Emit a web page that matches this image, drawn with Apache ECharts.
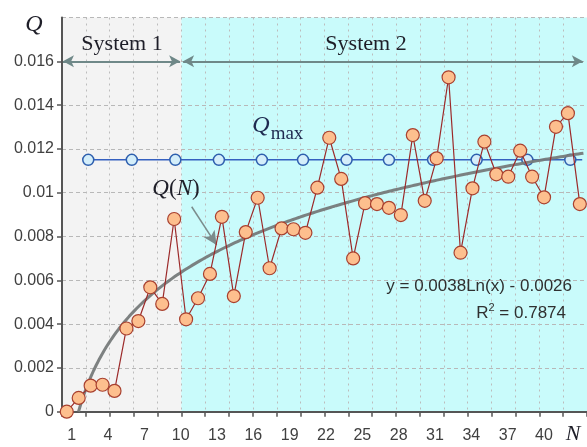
<!DOCTYPE html>
<html>
<head>
<meta charset="utf-8">
<script src="https://cdn.jsdelivr.net/npm/echarts@6/dist/echarts.min.js"></script>
<style>
  html, body { margin: 0; padding: 0; background: #ffffff; }
  #chart { width: 587px; height: 447px; }
</style>
</head>
<body>
<div id="chart"></div>
<script>
// Sample number N and the measured Q for each sample
const nValues = [1, 2, 3, 4, 5, 6, 7, 8, 9, 10, 11, 12, 13, 14, 15, 16, 17, 18, 19, 20, 21, 22,
                 23, 24, 25, 26, 27, 28, 29, 30, 31, 32, 33, 34, 35, 36, 37, 38, 39, 40, 41, 42, 43, 44];
const qValues = [0, 0.00063, 0.00119, 0.00123, 0.00095, 0.0038, 0.00414, 0.00568, 0.00492, 0.0088,
                 0.00422, 0.00518, 0.00629, 0.0089, 0.00528, 0.0082, 0.00977, 0.00655, 0.00837, 0.00833,
                 0.00817, 0.01023, 0.01251, 0.01063, 0.0070, 0.00952, 0.00948, 0.00931, 0.00898, 0.01263,
                 0.00963, 0.01157, 0.01527, 0.00726, 0.0102, 0.01233, 0.01084, 0.01073, 0.01192, 0.01073,
                 0.00979, 0.01301, 0.01363, 0.00948];

// Upper limit Q_max and the N positions of its markers
const QMAX = 0.0115;
const qmaxN = [2.8, 6.45, 10.1, 13.75, 17.35, 20.8, 24.45, 28.0, 31.7, 35.35, 39.6, 43.2];
const QMAX_LINE_END = 44.2;

// Logarithmic trend: y = A*ln(x) - B, R^2 as reported
const TREND_A = 0.0038;
const TREND_B = 0.0026;
const TREND_R2 = 0.7874;
const TREND_END = 44.3;

// Axis labels
const xTickLabels = [1, 4, 7, 10, 13, 16, 19, 22, 25, 28, 31, 34, 37, 40];

// Range of each system along N, with its background colour
const system1 = [0.6, 10.6];
const system2 = [10.6, 44.6];
const regionColors = ['#f3f3f3', '#c9fbfb'];
const SYSTEM_ARROW_Q = 0.016;
const Y_MAX = 0.018;

const mainData = nValues.map((n, i) => [n, qValues[i]]);

const qmaxData = qmaxN.map(n => [n, QMAX]);
qmaxData.push({ value: [QMAX_LINE_END, QMAX], symbol: 'none' });

// Trend curve built from the fitted equation
const trendData = [];
const trendStart = Math.exp(TREND_B / TREND_A);
for (let k = 0; k <= 200; k++) {
  const x = trendStart + (TREND_END - trendStart) * k / 200;
  trendData.push([x, TREND_A * Math.log(x) - TREND_B]);
}

const regionData = [
  [system1[0], system1[1], 0],
  [system2[0], system2[1], 1]
];

const serif = '"Liberation Serif", "DejaVu Serif", serif';
const sans = '"Liberation Sans", Arial, sans-serif';
const axisColor = '#555555';

const chart = echarts.init(document.getElementById('chart'), null, { renderer: 'canvas' });

chart.setOption({
  animation: false,
  backgroundColor: '#ffffff',
  grid: { left: 62, right: 0, top: 17.5, bottom: 35.3, outerBoundsMode: 'none' },
  xAxis: [
    {
      type: 'value',
      min: 0.6,
      max: 44.6,
      interval: 2,
      z: 1,
      axisLine: { show: true, onZero: false, lineStyle: { color: axisColor, width: 2 } },
      axisTick: { show: true, length: 5, lineStyle: { color: axisColor, width: 1.5 } },
      axisLabel: { show: false },
      splitLine: { show: true, lineStyle: { color: '#bcbcbc', width: 1, type: [2, 4] } }
    },
    {
      type: 'value',
      position: 'bottom',
      min: 0.2,
      max: 43.55,
      z: 1,
      axisLine: { show: false },
      axisTick: { show: false },
      splitLine: { show: false },
      axisLabel: {
        customValues: xTickLabels,
        fontFamily: sans,
        fontSize: 16,
        color: '#404040',
        margin: 16
      }
    }
  ],
  yAxis: {
    type: 'value',
    min: 0,
    max: Y_MAX,
    interval: 0.002,
    z: 1,
    axisLine: { show: true, onZero: false, lineStyle: { color: axisColor, width: 2 } },
    axisTick: { show: true, length: 5, lineStyle: { color: axisColor, width: 1.5 } },
    axisLabel: {
      showMaxLabel: false,
      fontFamily: sans,
      fontSize: 16,
      color: '#404040',
      margin: 8
    },
    splitLine: { show: true, lineStyle: { color: '#b8b8b8', width: 1, type: [4, 3] } }
  },
  series: [
    {
      // shaded bands for the two systems, drawn beneath the grid lines
      name: 'regions',
      type: 'custom',
      z: 0,
      silent: true,
      data: regionData,
      encode: { x: [0, 1] },
      renderItem: function (params, api) {
        const p0 = api.coord([api.value(0), Y_MAX]);
        const p1 = api.coord([api.value(1), 0]);
        return {
          type: 'rect',
          shape: { x: p0[0], y: p0[1], width: p1[0] - p0[0], height: p1[1] - p0[1] },
          style: { fill: regionColors[api.value(2)] },
          z2: 0
        };
      }
    },
    {
      name: 'Qmax',
      type: 'line',
      data: qmaxData,
      symbol: 'circle',
      symbolSize: 11,
      lineStyle: { color: '#3560c0', width: 1.5 },
      itemStyle: { color: '#d4eefa', borderColor: '#2e5fae', borderWidth: 1.5 },
      z: 3,
      markLine: {
        silent: true,
        symbol: ['arrow', 'arrow'],
        symbolSize: [9, 11],
        label: { show: false },
        lineStyle: { color: '#6f8888', width: 2, type: 'solid' },
        data: [
          [{ coord: [system1[0] + 0.08, SYSTEM_ARROW_Q] }, { coord: [system1[1] - 0.1, SYSTEM_ARROW_Q] }],
          [{ coord: [system2[0] + 0.15, SYSTEM_ARROW_Q] }, { coord: [system2[1] - 0.35, SYSTEM_ARROW_Q] }]
        ]
      }
    },
    {
      name: 'trend',
      type: 'line',
      data: trendData,
      showSymbol: false,
      symbol: 'none',
      smooth: false,
      lineStyle: { color: 'rgba(118,122,122,0.95)', width: 3 },
      z: 4,
      markLine: {
        silent: true,
        symbol: ['none', 'arrow'],
        symbolSize: [10, 14],
        label: { show: false },
        lineStyle: { color: '#7b8c8c', width: 1.5, type: 'solid' },
        data: [
          [{ coord: [11.47, 0.00936] }, { coord: [13.56, 0.00761] }]
        ]
      }
    },
    {
      name: 'Q',
      type: 'line',
      data: mainData,
      symbol: 'circle',
      symbolSize: 13,
      lineStyle: { color: '#9c2a2a', width: 1.2 },
      itemStyle: { color: '#fdbf8e', borderColor: '#a8402f', borderWidth: 1.2 },
      z: 5
    }
  ],
  graphic: [
    { type: 'text', x: 34, y: 25, z: 10,
      style: { text: 'Q', font: 'italic 24px ' + serif, fill: '#1e1e28', align: 'center', verticalAlign: 'middle' } },
    { type: 'text', x: 573, y: 434, z: 10,
      style: { text: 'N', font: 'italic 22px ' + serif, fill: '#1e1e28', align: 'center', verticalAlign: 'middle' } },
    { type: 'text', x: 122, y: 44, z: 10,
      style: { text: 'System 1', font: '22px ' + serif, fill: '#1e1e28', align: 'center', verticalAlign: 'middle' } },
    { type: 'text', x: 366, y: 44, z: 10,
      style: { text: 'System 2', font: '22px ' + serif, fill: '#1e1e28', align: 'center', verticalAlign: 'middle' } },
    { type: 'text', x: 261, y: 126, z: 10,
      style: { text: 'Q', font: 'italic 24px ' + serif, fill: '#1e2a50', align: 'center', verticalAlign: 'middle' } },
    { type: 'text', x: 287, y: 134, z: 10,
      style: { text: 'max', font: '19px ' + serif, fill: '#1e2a50', align: 'center', verticalAlign: 'middle' } },
    { type: 'text', x: 176, y: 189, z: 10,
      style: {
        text: '{i|Q}{r|(}{i|N}{r|)}',
        align: 'center', verticalAlign: 'middle',
        rich: {
          i: { font: 'italic 23px ' + serif, fill: '#1e1e28' },
          r: { font: '23px ' + serif, fill: '#1e1e28' }
        }
      } },
    { type: 'text', x: 572, y: 286, z: 10,
      style: { text: 'y = ' + TREND_A + 'Ln(x) - ' + TREND_B, font: '17px ' + sans, fill: '#303030',
               align: 'right', verticalAlign: 'middle' } },
    { type: 'text', x: 566, y: 313, z: 10,
      style: {
        text: '{n|R}{s|2}{n| = ' + TREND_R2 + '}',
        align: 'right', verticalAlign: 'middle',
        rich: {
          n: { font: '17px ' + sans, fill: '#303030' },
          s: { font: '11px ' + sans, fill: '#303030', padding: [0, 0, 10, 0] }
        }
      } }
  ]
});
</script>
</body>
</html>
